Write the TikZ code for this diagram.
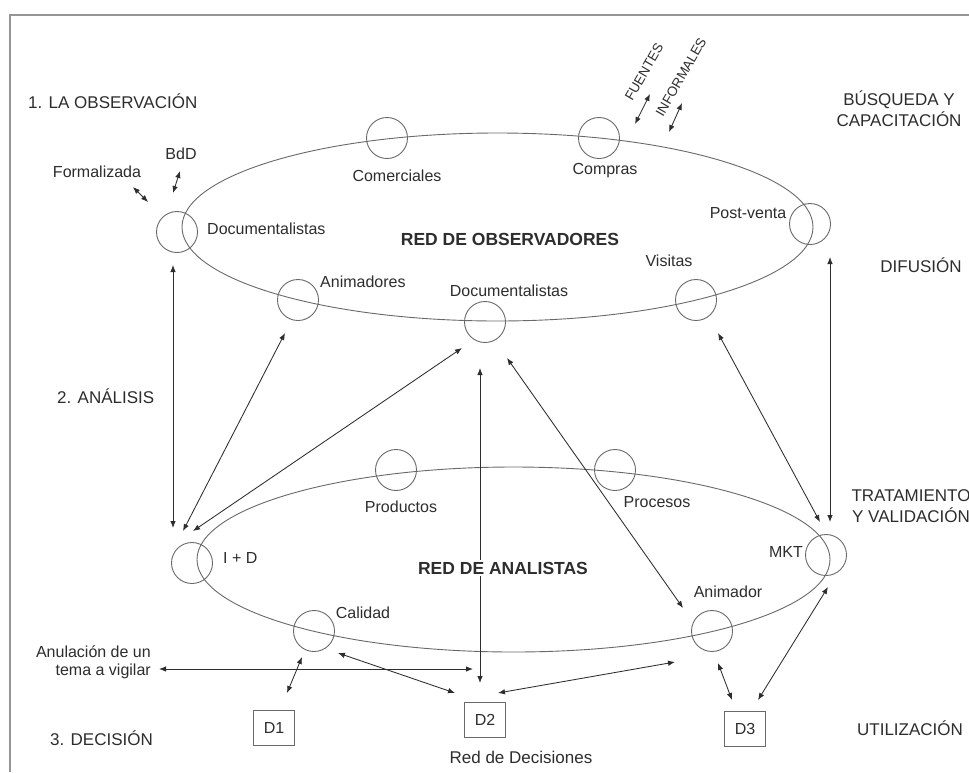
\documentclass[tikz,border=0pt]{standalone}
\usepackage{fontspec}
\setmainfont{Liberation Sans}
\usetikzlibrary{arrows.meta}
\definecolor{ink}{RGB}{45,45,45}
\definecolor{ringgray}{RGB}{105,105,105}
\definecolor{framegray}{RGB}{150,150,150}
\begin{document}
\begin{tikzpicture}[x=1pt,y=-1pt,
  lbl/.style={text=ink,font=\fontsize{16}{18}\selectfont,inner sep=0pt},
  sec/.style={text=ink,font=\fontsize{17}{21}\selectfont,inner sep=0pt},
  net/.style={text=ink,font=\bfseries\fontsize{17.5}{20}\selectfont,inner sep=2pt},
  rot/.style={text=ink,font=\fontsize{13.5}{16}\selectfont,inner sep=0pt,rotate=60},
  ring/.style={draw=ringgray,line width=0.9pt,circle,minimum size=41pt,inner sep=0pt},
  orbit/.style={draw=ringgray,line width=0.9pt},
  dbox/.style={draw=ringgray,line width=0.9pt,minimum width=41pt,minimum height=35pt,inner sep=0pt,text=ink,font=\fontsize{16}{18}\selectfont},
  link/.style={draw=ink,line width=0.85pt,{Latex[length=7pt,width=5.5pt]}-{Latex[length=7pt,width=5.5pt]}}
]
\useasboundingbox (0,0) rectangle (969,772);
\clip (0,0) rectangle (969,772);
\fill[white] (0,0) rectangle (969,772);

% page frame
\draw[framegray,line width=2pt] (10,772) -- (10,15) -- (969,15);

% the two networks
\draw[orbit] (497.5,227) ellipse [x radius=315.5pt, y radius=94pt];
\draw[orbit] (513.5,559.5) ellipse [x radius=316.5pt, y radius=92.5pt];

% observers
\node[ring] (cDocL) at (177,232) {};
\node[ring] (cCom) at (387,138) {};
\node[ring] (cCompras) at (599,138) {};
\node[ring] (cPost) at (810,224) {};
\node[ring] (cVis) at (696,300) {};
\node[ring] (cDocM) at (485,322) {};
\node[ring] (cAnim) at (298,300) {};

% analysts
\node[ring] (cProd) at (396,470) {};
\node[ring] (cProc) at (615,470) {};
\node[ring] (cMKT) at (826,555) {};
\node[ring] (cAnimador) at (712,631) {};
\node[ring] (cCal) at (314,631) {};
\node[ring] (cID) at (192,563) {};

% decisions
\node[dbox] (d1) at (274,728) {D1};
\node[dbox] (d2) at (485,720) {D2};
\node[dbox] (d3) at (745,729) {D3};

% stage titles
\node[sec,anchor=west] (s1) at (28,101) {1. LA OBSERVACIÓN};
\node[sec,anchor=west] (s2) at (57,396) {2. ANÁLISIS};
\node[sec,anchor=west] (s3) at (50,738) {3. DECISIÓN};
\node[sec,align=center] (r1) at (899,109) {BÚSQUEDA Y\\CAPACITACIÓN};
\node[sec] (r2) at (921,265) {DIFUSIÓN};
\node[sec,align=center] (r3) at (911,506) {TRATAMIENTO\\Y VALIDACIÓN};
\node[sec] (r4) at (910,728) {UTILIZACIÓN};

% labels of the members
\node[lbl] (tForm) at (97,172) {Formalizada};
\node[lbl] (tBdD) at (181,154) {BdD};
\node[lbl,anchor=west] (tDocL) at (207,229) {Documentalistas};
\node[lbl] (tCom) at (397,176) {Comerciales};
\node[lbl] (tCompras) at (605,171) {Compras};
\node[lbl] (tPost) at (748,213) {Post-venta};
\node[lbl] (tVis) at (669,261) {Visitas};
\node[lbl,anchor=west] (tAnim) at (320,282) {Animadores};
\node[lbl] (tDocM) at (509,291) {Documentalistas};
\node[lbl] (tProd) at (401,507) {Productos};
\node[lbl] (tProc) at (657,502) {Procesos};
\node[lbl,anchor=west] (tID) at (223,558) {I + D};
\node[lbl] (tMKT) at (786,552) {MKT};
\node[lbl] (tCal) at (363,613) {Calidad};
\node[lbl] (tAnimador) at (728,592) {Animador};
\node[lbl,align=right,anchor=east] (tAnul) at (151,662) {Anulación de un\\tema a vigilar};
\node[sec] (tRed) at (521,757) {Red de Decisiones};
\node[rot] (tFuentes) at (644,72) {FUENTES};
\node[rot] (tInf) at (681,77) {INFORMALES};
\node[net] (tObs) at (510,239) {RED DE OBSERVADORES};

% arrow ends
\coordinate (fA) at (133,187); \coordinate (fB) at (148,202);
\coordinate (bA) at (180,171); \coordinate (bB) at (173,193);
\coordinate (fuA) at (650,94); \coordinate (fuB) at (635,124);
\coordinate (inA) at (682,103); \coordinate (inB) at (669,132);
\coordinate (docDown) at (173,265); \coordinate (idUp1) at (173,528);
\coordinate (animDown) at (285,333); \coordinate (idUp2) at (183,531);
\coordinate (docmDown1) at (462,348); \coordinate (idUp3) at (193,531);
\coordinate (docmDown2) at (480,368); \coordinate (d2Up1) at (480,683);
\coordinate (docmDown3) at (507,358); \coordinate (animadorUp) at (683,608);
\coordinate (visDown) at (718,333); \coordinate (mktUp1) at (820,522);
\coordinate (postDown) at (830,257); \coordinate (mktUp2) at (830,522);
\coordinate (anulEnd) at (159,669); \coordinate (d2Left) at (473,669);
\coordinate (calDown1) at (302,657); \coordinate (d1Up) at (287,693);
\coordinate (calDown2) at (338,653); \coordinate (d2Up2) at (455,693);
\coordinate (animadorDown1) at (675,662); \coordinate (d2Up3) at (498,693);
\coordinate (animadorDown2) at (718,663); \coordinate (d3Up1) at (732,700);
\coordinate (mktDown) at (828,587); \coordinate (d3Up2) at (758,700);

% connectors
\draw[link] (fA) -- (fB);
\draw[link] (bA) -- (bB);
\draw[link] (fuA) -- (fuB);
\draw[link] (inA) -- (inB);
\draw[link] (docDown) -- (idUp1);
\draw[link] (animDown) -- (idUp2);
\draw[link] (docmDown1) -- (idUp3);
\draw[link] (docmDown2) -- (d2Up1);
\draw[link] (docmDown3) -- (animadorUp);
\draw[link] (visDown) -- (mktUp1);
\draw[link] (postDown) -- (mktUp2);
\draw[link] (anulEnd) -- (d2Left);
\draw[link] (calDown1) -- (d1Up);
\draw[link] (calDown2) -- (d2Up2);
\draw[link] (animadorDown1) -- (d2Up3);
\draw[link] (animadorDown2) -- (d3Up1);
\draw[link] (mktDown) -- (d3Up2);

% title of the analysts network, over the vertical link
\node[net,fill=white] (tAna) at (503,568) {RED DE ANALISTAS};
\end{tikzpicture}
\end{document}
